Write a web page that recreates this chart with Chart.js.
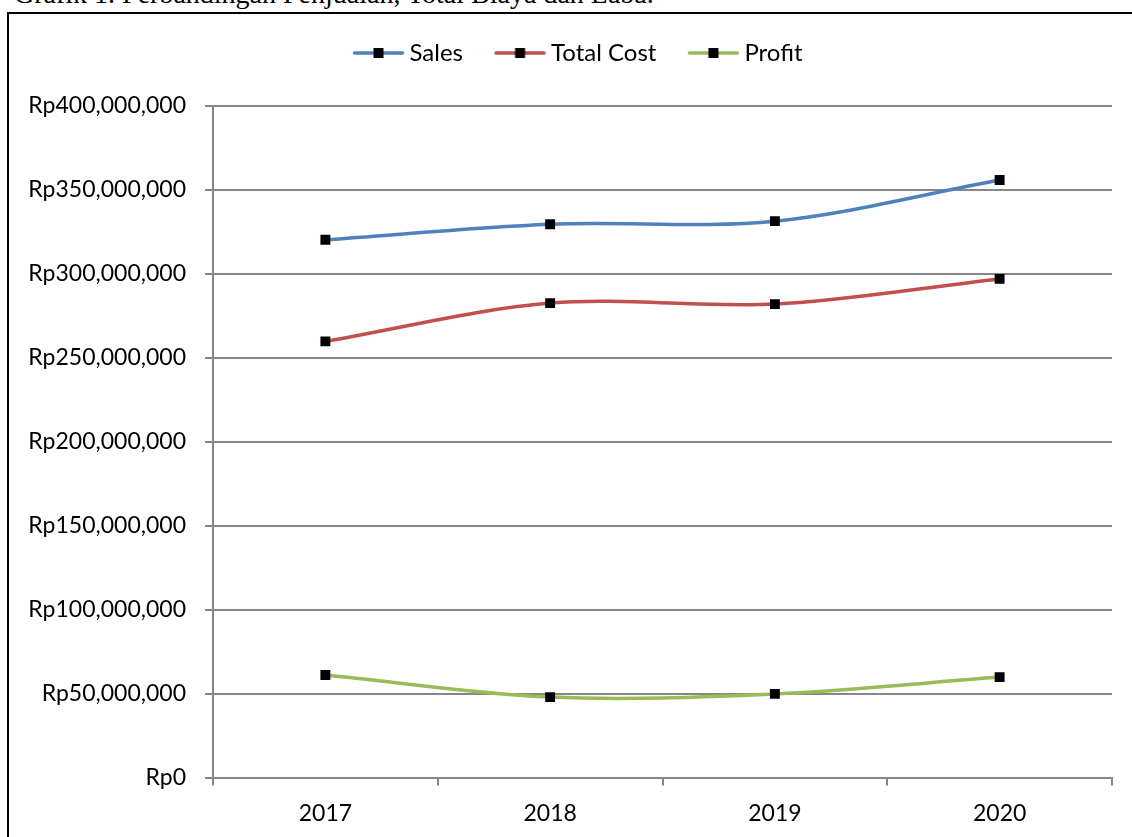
<!DOCTYPE html>
<html>
<head>
<meta charset="utf-8">
<script src="https://cdn.jsdelivr.net/npm/chart.js@4.4.0/dist/chart.umd.min.js"></script>
<style>
  html, body { margin: 0; padding: 0; width: 1132px; height: 837px; overflow: hidden; background: #fff; }
  #caption { position: absolute; left: 14px; top: -20px; font-family: "Liberation Serif", "DejaVu Serif", serif; font-size: 28px; line-height: 1; color: #000; white-space: nowrap; }
  #frame { position: absolute; left: 7px; top: 12px; width: 1144px; height: 848px; border: 2px solid #000; box-sizing: border-box; }
  #wrap { position: absolute; left: 0px; top: 0px; width: 1138px; height: 846px; }
</style>
</head>
<body>
<div id="caption">Grafik 1. Perbandingan Penjualan, Total Biaya dan Laba.</div>
<div id="frame"><div id="wrap"><canvas id="c"></canvas></div></div>
<script>
const years = ["2017", "2018", "2019", "2020"];
const sales = [320300000, 329600000, 331400000, 355900000];
const totalCost = [259800000, 282600000, 282000000, 297000000];
const profit = [61100000, 47900000, 49800000, 59800000];
const seriesNames = ["Sales", "Total Cost", "Profit"];
const seriesColors = ["#4F81BD", "#C0504D", "#9BBB59"];
const yTickStep = 50000000;
const yMax = 400000000;

function legendIcon(color) {
  const cv = document.createElement('canvas');
  cv.width = 64; cv.height = 12;
  const g = cv.getContext('2d');
  g.strokeStyle = color; g.lineWidth = 3.5; g.lineCap = 'round';
  g.beginPath(); g.moveTo(13.5, 6); g.lineTo(61.5, 6); g.stroke();
  g.fillStyle = '#000'; g.fillRect(32.5, 1, 10, 10);
  return cv;
}
const icons = seriesColors.map(legendIcon);

const legendPlace = {
  id: 'legendPlace',
  beforeInit(chart) {
    const orig = chart.legend.fit;
    chart.legend.fit = function () { orig.call(this); this.height += 31; };
  },
  afterLayout(chart) {
    const l = chart.legend;
    l.left += 15; l.right += 15;
  }
};

const seriesData = [sales, totalCost, profit];
new Chart(document.getElementById('c'), {
  type: 'line',
  data: {
    labels: years,
    datasets: seriesNames.map((n, i) => ({
      label: n,
      data: seriesData[i],
      borderColor: seriesColors[i],
      backgroundColor: '#000',
      borderWidth: 3.5,
      tension: 0.33,
      pointStyle: 'rect',
      pointRadius: 7,
      pointHoverRadius: 7,
      pointBackgroundColor: '#000',
      pointBorderWidth: 0,
      fill: false
    }))
  },
  options: {
    responsive: true,
    maintainAspectRatio: false,
    animation: false,
    layout: { padding: { left: 0, right: 35, top: 0, bottom: 0 } },
    plugins: {
      tooltip: { enabled: false },
      legend: {
        position: 'top',
        align: 'center',
        labels: {
          usePointStyle: true,
          pointStyleWidth: 49,
          padding: 27,
          color: '#000',
          font: { family: 'Lato', size: 24 },
          generateLabels(chart) {
            return seriesNames.map((n, i) => ({
              text: n, pointStyle: icons[i], datasetIndex: i,
              fillStyle: seriesColors[i], strokeStyle: seriesColors[i], lineWidth: 0, hidden: false
            }));
          }
        }
      }
    },
    scales: {
      x: {
        offset: true,
        grid: { display: true, drawOnChartArea: false, drawTicks: true, tickLength: 8, offset: true, color: '#868686', lineWidth: 2 },
        border: { display: true, color: '#868686', width: 2 },
        ticks: { color: '#000', font: { family: 'Lato', size: 23 }, padding: 14, maxRotation: 0 },
        afterFit(s) { s.height = 82.5; }
      },
      y: {
        min: 0, max: yMax,
        grid: { color: '#868686', lineWidth: 2, tickLength: 8, drawTicks: true },
        border: { display: true, color: '#868686', width: 2 },
        ticks: {
          stepSize: yTickStep,
          color: '#000',
          font: { family: 'Lato', size: 23 },
          padding: 19,
          callback: v => 'Rp' + Number(v).toLocaleString('en-US')
        },
        afterFit(s) { s.width = 204; }
      }
    }
  },
  plugins: [legendPlace]
});
</script>
</body>
</html>
